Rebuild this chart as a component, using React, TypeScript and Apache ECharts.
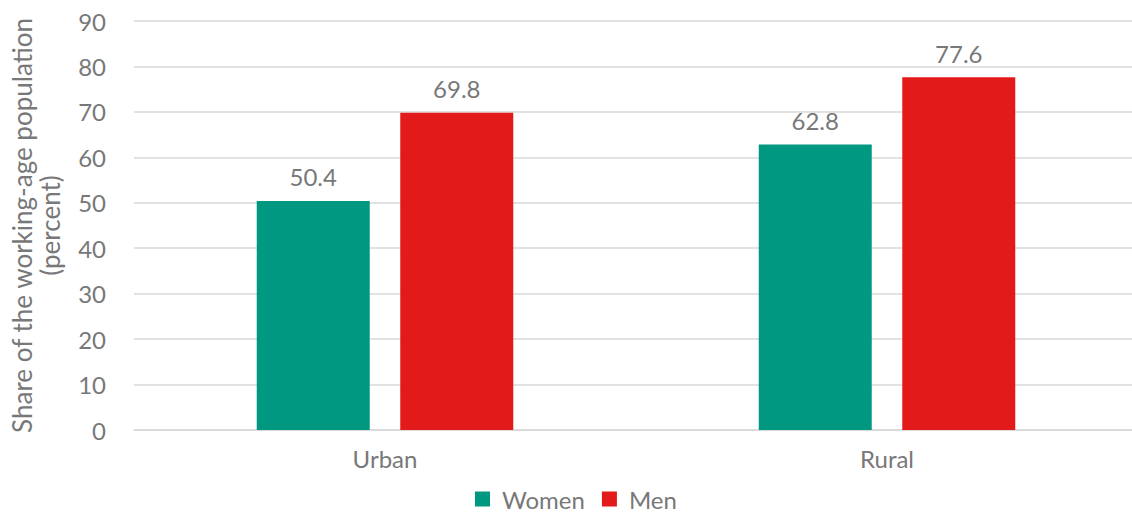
import React, { useEffect, useRef } from "react";
import * as echarts from "echarts";

const categories = ["Urban", "Rural"];
const women = [50.4, 62.8];
const men = [69.8, 77.6];
const seriesNames = ["Women", "Men"];
const yTicks = { min: 0, max: 90, interval: 10 };

const FONT = "Lato, 'Open Sans', sans-serif";
const GREY = "#787878";

export default function App() {
  const ref = useRef<HTMLDivElement>(null);
  useEffect(() => {
    if (!ref.current) return;
    const chart = echarts.init(ref.current, undefined, { renderer: "svg" });
    const label = {
      show: true,
      position: "top" as const,
      distance: 12,
      color: GREY,
      fontSize: 24,
      fontFamily: FONT,
      formatter: (p: any) => p.value.toFixed(1),
    };
    chart.setOption({
      animation: false,
      textStyle: { fontFamily: FONT },
      grid: { left: 132, top: 21, width: 1006, height: 409, containLabel: false },
      legend: {
        data: seriesNames,
        top: 482,
        left: 470,
        itemWidth: 15,
        itemHeight: 15,
        itemGap: 17,
        icon: "rect",
        textStyle: { color: GREY, fontSize: 24, fontFamily: FONT, padding: [0, 0, 0, 7] },
      },
      xAxis: {
        type: "category",
        data: categories,
        axisLine: { show: true, lineStyle: { color: "#d9d9d9", width: 1.5 } },
        axisTick: { show: false },
        axisLabel: { color: GREY, fontSize: 24, fontFamily: FONT, margin: 16 },
      },
      yAxis: {
        type: "value",
        min: yTicks.min,
        max: yTicks.max,
        interval: yTicks.interval,
        name: "Share of the working-age population\n(percent)",
        nameLocation: "middle",
        nameGap: 70,
        nameTextStyle: { color: GREY, fontSize: 26, fontFamily: FONT, lineHeight: 28 },
        axisLine: { show: false },
        axisTick: { show: false },
        axisLabel: { color: GREY, fontSize: 24, fontFamily: FONT, margin: 28 },
        splitLine: { lineStyle: { color: "#d9d9d9", width: 1.5 } },
      },
      series: [
        {
          name: seriesNames[0],
          type: "bar",
          data: women,
          barWidth: 113,
          barGap: "27%",
          itemStyle: { color: "#009880" },
          label,
        },
        {
          name: seriesNames[1],
          type: "bar",
          data: men,
          barWidth: 113,
          barGap: "27%",
          itemStyle: { color: "#e31a1a" },
          label,
        },
      ],
    });
    return () => chart.dispose();
  }, []);
  return (
    <div
      ref={ref}
      style={{ position: "fixed", left: 0, top: 0, width: 1150, height: 514, background: "#fff" }}
    />
  );
}
